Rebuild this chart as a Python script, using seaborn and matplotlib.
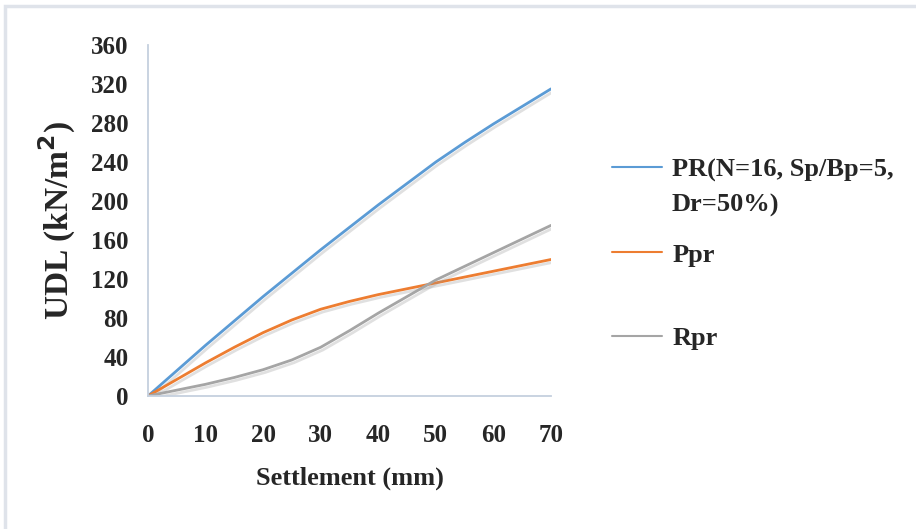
import numpy as np
import pandas as pd
import seaborn as sns
import matplotlib.pyplot as plt
import matplotlib.patheffects as pe
from matplotlib.lines import Line2D
from matplotlib.patches import Rectangle

# settlement (mm) and UDL (kN/m2)
settlement = [0, 5, 10, 15, 20, 25, 30, 35, 40, 45, 50, 55, 60, 65, 70]
udl_pr = [0, 26, 52, 77, 102, 126, 150, 173, 196, 218, 240, 260, 279, 297, 315]
udl_ppr = [0, 17, 34, 50, 65, 78, 89, 97, 104, 110, 116, 122, 128, 134, 140]
udl_rpr = [0, 6, 12, 19, 27, 37, 50, 67, 85, 102, 119, 133, 147, 161, 175]

labels = ["PR(N=16, Sp/Bp=5,\nDr=50%)", "Ppr", "Rpr"]
colors = ["#5B9BD5", "#ED7D31", "#A5A5A5"]

df = pd.DataFrame({
    "Settlement": settlement * 3,
    "UDL": udl_pr + udl_ppr + udl_rpr,
    "series": [labels[0]] * len(settlement) + [labels[1]] * len(settlement) + [labels[2]] * len(settlement),
})

sns.set_theme(style="white")
plt.rcParams["font.family"] = ["Liberation Serif", "DejaVu Serif"]
plt.rcParams["font.weight"] = "bold"

fig = plt.figure(figsize=(9.16, 5.29), dpi=100)
ax = fig.add_axes([148 / 916, 1 - 396 / 529, (551 - 148) / 916, (396 - 45) / 529])

sns.lineplot(data=df, x="Settlement", y="UDL", hue="series", palette=colors,
             linewidth=2, ax=ax, legend=False)
for line in ax.lines:
    line.set_solid_joinstyle("round")
    line.set_path_effects([pe.SimpleLineShadow(offset=(1.5, -2), shadow_color="#999999", alpha=0.3),
                           pe.Normal()])

ax.set_xlim(0, 70)
ax.set_ylim(0, 360)
ax.set_xticks(np.arange(0, 71, 10))
ax.set_yticks(np.arange(0, 361, 40))
ax.tick_params(axis="both", length=0, labelsize=18)
ax.tick_params(axis="x", pad=20)
ax.tick_params(axis="y", pad=14)
for lab in ax.get_xticklabels() + ax.get_yticklabels():
    lab.set_fontweight("bold")

for s in ["top", "right"]:
    ax.spines[s].set_visible(False)
for s in ["left", "bottom"]:
    ax.spines[s].set_color("#c5d0de")
    ax.spines[s].set_linewidth(1.3)

ax.set_xlabel("Settlement (mm)", fontsize=19, fontweight="bold", labelpad=14)
ax.set_ylabel("UDL (kN/m$^\\mathbf{2}$)", fontsize=24, fontweight="bold", labelpad=9)

# legend entries, each placed like the original
ys = [170, 255, 338]
for lab, c, y in zip(["PR(N=16, Sp/Bp=5,", "Ppr", "Rpr"], colors, ys):
    h = Line2D([], [], color=c, linewidth=1.5)
    fig.legend([h], [lab], loc="center left", bbox_to_anchor=(612 / 916, 1 - y / 529),
               frameon=False, borderpad=0, borderaxespad=0, handlelength=1.9, handletextpad=0.38,
               prop={"size": 19, "weight": "bold", "family": "Liberation Serif"})
fig.text(672 / 916, 1 - 205 / 529, "Dr=50%)", fontsize=19, fontweight="bold",
         family="Liberation Serif", va="center", ha="left")

fig.patches.append(Rectangle((5 / 916, -0.1), 1.2, (529 - 6) / 529 + 0.1, transform=fig.transFigure,
                             fill=False, edgecolor="#dfe3ea", linewidth=2.5))

fig.savefig("out.png", dpi=100)
